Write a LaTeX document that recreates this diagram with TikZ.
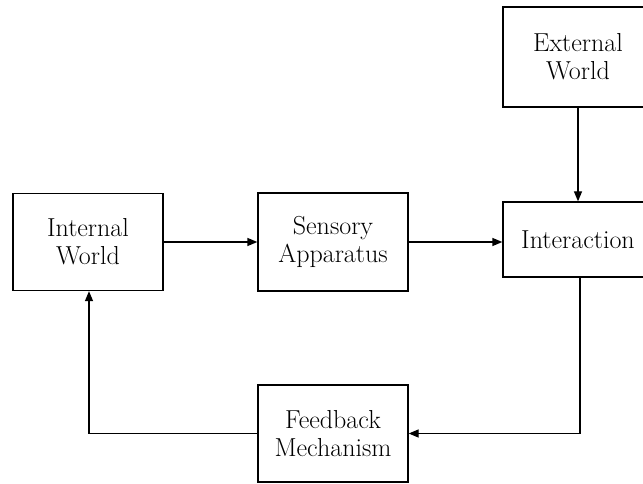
\documentclass[tikz,border=0pt]{standalone}
\usetikzlibrary{arrows.meta}
\begin{document}
\begin{tikzpicture}[x=1pt,y=-1pt,
  box/.style={draw,line width=1.3pt,minimum width=150pt,inner sep=0pt,align=center,
    font=\fontsize{26}{28}\selectfont},
  conn/.style={line width=1.3pt,-{Triangle[length=10pt,width=8pt]}}]
\clip (0,0) rectangle (643,484);
\node[box,minimum height=97pt] (int) at (88,242) {Internal\\World};
\node[box,minimum height=98pt] (sens) at (333,242) {Sensory\\Apparatus};
\node[box,minimum height=100pt] (ext) at (578,57) {External\\World};
\node[box,minimum height=75pt] (inter) at (578,239.5) {Interaction};
\node[box,minimum height=97pt] (fb) at (333,433.5) {Feedback\\Mechanism};
\coordinate (c1) at (580,433.5);
\coordinate (c2) at (89,433.5);
\draw[conn] (int.east) -- (sens.west);
\draw[conn] (sens.east) -- (sens.east -| inter.west);
\draw[conn] (ext.south) -- (inter.north);
\draw[conn] (inter.south -| c1) -- (c1) -- (fb.east);
\draw[conn] (fb.west) -- (c2) -- (int.south -| c2);
\end{tikzpicture}
\end{document}
